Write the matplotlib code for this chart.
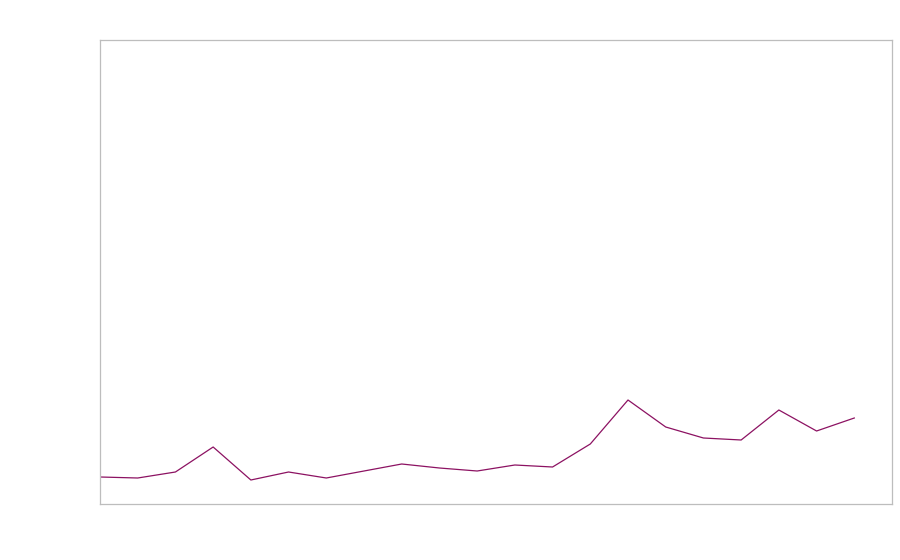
import matplotlib
matplotlib.use('Agg')
import matplotlib.pyplot as plt

# 数据（从图中读取，单位为相对高度）
x_idx = list(range(21))
values = [27, 26, 32, 57, 24, 32, 26, 33, 40, 36, 33, 39, 37, 60,
          104, 77, 66, 64, 94, 73, 86]

fig = plt.figure(figsize=(9, 5.6), dpi=100)
ax = fig.add_axes([100 / 900, 56 / 560, 792 / 900, 464 / 560])

ax.plot(x_idx, values, color='#8c1262', linewidth=0.9)

ax.set_xlim(0, 21)
ax.set_ylim(0, 464)
ax.set_xticks([])
ax.set_yticks([])
for sp in ax.spines.values():
    sp.set_color('#bdbdbd')
    sp.set_linewidth(0.9)

fig.savefig('out.png', dpi=100)
